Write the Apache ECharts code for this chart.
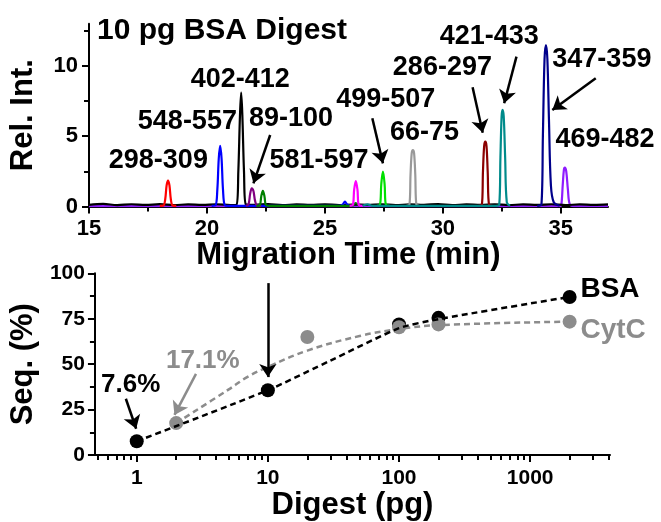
<!DOCTYPE html>
<html>
<head>
<meta charset="utf-8">
<script src="https://cdn.jsdelivr.net/npm/echarts@6/dist/echarts.min.js"></script>
<style>html,body{margin:0;padding:0;background:#fff}#c{width:661px;height:522px}</style>
</head>
<body>
<div id="c"></div>
<script>
// ---------- Top panel: electropherogram (time min, rel. intensity) ----------
const xTopTicks = [15, 20, 25, 30, 35];
const xTopMinor = [17.5, 22.5, 27.5, 32.5];
const yTopTicks = [0, 5, 10];
const yTopMinor = [2.5, 7.5, 12.5];

const trace_402_412 = [[15,0.12],[15.6,0.18],[16.2,0.1],[16.8,0.16],[17.4,0.11],[18.0,0.17],[18.6,0.1],[19.2,0.15],[19.8,0.12],[20.4,0.16],[21.0,0.1],[21.25,0.12],[21.33,2.5],[21.4,6.5],[21.45,8.1],[21.5,6.5],[21.57,2.5],[21.65,0.15],[22.0,0.12],[22.6,0.17],[23.2,0.1],[23.8,0.15],[24.4,0.12],[25.0,0.16],[25.6,0.1],[26.2,0.14],[26.8,0.12],[27.4,0.16],[28.0,0.1],[28.6,0.15],[29.2,0.12],[29.8,0.17],[30.4,0.1],[31.0,0.15],[31.6,0.12],[32.2,0.16],[32.8,0.1],[33.4,0.15],[34.0,0.12],[34.6,0.16],[35.2,0.1],[35.8,0.15],[36.4,0.12],[37,0.15]];
const trace_298_309 = [[18.0,0.05],[18.15,0.06],[18.23,0.5],[18.29,1.5],[18.35,1.84],[18.41,1.5],[18.47,0.5],[18.55,0.06],[18.7,0.05]];
const trace_548_557 = [[20.2,0.05],[20.36,0.08],[20.44,1.2],[20.5,3.4],[20.56,4.31],[20.62,3.4],[20.68,1.2],[20.76,0.08],[20.9,0.05],[25.6,0.05],[25.76,0.15],[25.85,0.35],[25.94,0.15],[26.05,0.05]];
const trace_89_100 = [[21.65,0.05],[21.76,0.15],[21.83,0.9],[21.9,1.3],[21.97,1.1],[22.04,0.4],[22.12,0.08],[22.3,0.05]];
const trace_581_597 = [[22.1,0.05],[22.24,0.1],[22.3,0.7],[22.37,1.12],[22.44,0.7],[22.5,0.1],[22.65,0.05],[26.15,0.05],[26.3,0.25],[26.45,0.05]];
const trace_magenta = [[26.05,0.05],[26.18,0.1],[26.24,1.2],[26.31,1.81],[26.38,1.2],[26.44,0.1],[26.6,0.05]];
const trace_499_507 = [[27.2,0.05],[27.33,0.1],[27.39,1.6],[27.46,2.48],[27.53,1.6],[27.59,0.1],[27.75,0.05]];
const trace_66_75 = [[28.45,0.05],[28.58,0.1],[28.63,2.3],[28.68,3.8],[28.73,4.02],[28.78,3.8],[28.83,2.3],[28.88,0.1],[29.0,0.05]];
const trace_286_297 = [[31.5,0.05],[31.65,0.1],[31.7,2.5],[31.75,4.3],[31.8,4.61],[31.85,4.3],[31.9,2.5],[31.96,0.1],[32.1,0.05]];
const trace_421_433 = [[26.6,0.05],[26.8,0.15],[27.0,0.05],[32.25,0.05],[32.39,0.12],[32.44,3.5],[32.49,6.4],[32.53,6.87],[32.58,6.4],[32.64,3.5],[32.71,0.3],[32.85,0.05]];
const trace_347_359 = [[34.0,0.05],[34.18,0.15],[34.24,5.0],[34.31,10.5],[34.37,11.49],[34.43,10.5],[34.5,6.0],[34.58,1.5],[34.7,0.3],[34.95,0.05]];
const trace_469_482 = [[15,0.02],[34.95,0.02],[35.02,0.1],[35.08,1.5],[35.13,2.6],[35.17,2.76],[35.23,2.5],[35.3,1.2],[35.38,0.15],[35.55,0.03],[37,0.02]];

const peakLabels = [['298-309',17.94,3.24],['548-557',19.17,6.01],['402-412',21.41,9.0],['89-100',23.56,6.23],['581-597',24.75,3.24],['499-507',27.58,7.58],['66-75',29.22,5.23],['286-297',29.98,9.86],['421-433',31.97,12.06],['347-359',36.74,10.43],['469-482',36.87,4.73]];
const peakArrows = [[[22.68,5.09],[21.97,1.65]],[[27.01,6.28],[27.46,3.07]],[[31.26,8.48],[31.69,5.25]],[[33.12,10.66],[32.6,7.35]],[[36.48,9.12],[34.64,6.87]]];

// ---------- Bottom panel: sequence coverage vs digest amount ----------
const digestTicks = [1, 10, 100, 1000];
const digestMinor = [0.5,0.6,0.7,0.8,0.9,2,3,4,5,6,7,8,9,20,30,40,50,60,70,80,90,200,300,400,500,600,700,800,900,2000,3000,4000];
const bsaX = [1, 10, 100, 200, 2000];
const bsaY = [7.6, 35.7, 71.9, 75.5, 87.0];
const cytcX = [2, 20, 100, 200, 2000];
const cytcY = [17.6, 65.0, 70.3, 71.9, 73.4];
const bsaFitX = [1, 10, 30, 100, 200, 2000];
const bsaFitY = [7.6, 35.7, 52, 69.8, 74.8, 87.0];
const cytcFitX = [2, 5, 7, 10, 20, 50, 100, 200, 2000];
const cytcFitY = [17.6, 36, 43, 48.5, 57.5, 65.5, 69.3, 71.5, 73.4];
const seqLabels = [['7.6%',0.90,38.75,'#000'],['17.1%',3.19,52.1,'#8c8c8c']];
const legendLabels = [['BSA',2417,91.0,'#000'],['CytC',2417,68.8,'#8c8c8c']];
const seqArrows = [[[0.826,31],[0.99,14.5],'#000'],[[2.83,44.7],[1.94,22.1],'#8c8c8c'],[[10,94.6],[10,42.9],'#000']];

const FONT = '"Liberation Sans", Arial, Helvetica, sans-serif';
const BLACK = '#000';
const GRAY = '#8c8c8c';

function axisBase(extra) {
  return Object.assign({
    axisLine: {show: true, onZero: false, lineStyle: {color: BLACK, width: 2}},
    axisTick: {show: true, inside: false, length: 7, lineStyle: {color: BLACK, width: 2}},
    axisLabel: {color: BLACK, fontFamily: FONT, fontWeight: 'bold', fontSize: 21},
    splitLine: {show: false},
    nameTextStyle: {color: BLACK, fontFamily: FONT, fontWeight: 'bold', fontSize: 31},
    nameLocation: 'middle'
  }, extra);
}
// overlay axes that only draw the short minor ticks
function minorAxis(extra, values) {
  return Object.assign({
    axisLine: {show: false, onZero: false},
    axisLabel: {show: false},
    splitLine: {show: false},
    axisTick: {show: true, inside: false, length: 5, customValues: values, lineStyle: {color: BLACK, width: 2}}
  }, extra);
}

const traceColors = [
  [trace_469_482, '#8f1cff'],
  [trace_402_412, '#000000'],
  [trace_298_309, '#ff0000'],
  [trace_548_557, '#0000ff'],
  [trace_89_100, '#800080'],
  [trace_581_597, '#008000'],
  [trace_magenta, '#ff00ff'],
  [trace_499_507, '#00e000'],
  [trace_66_75, '#999999'],
  [trace_286_297, '#8b0000'],
  [trace_421_433, '#008b8b'],
  [trace_347_359, '#00008b']
];

const series = [];
traceColors.forEach(function (tc) {
  series.push({
    type: 'line', xAxisIndex: 0, yAxisIndex: 0, data: tc[0],
    showSymbol: false, symbol: 'none', smooth: 0.35,
    lineStyle: {color: tc[1], width: 2.2}, silent: true
  });
});

const labelStyle = {fontFamily: FONT, fontWeight: 'bold', fontSize: 27, color: BLACK};

series.push({
  type: 'scatter', xAxisIndex: 0, yAxisIndex: 0, symbolSize: 0, silent: true,
  itemStyle: {opacity: 1},
  data: peakLabels.map(function (p) { return {value: [p[1], p[2]], name: p[0]}; }),
  label: Object.assign({show: true, position: 'inside', formatter: function (p) { return p.name; }}, labelStyle),
  markLine: {
    silent: true, symbol: ['none', 'arrow'], symbolSize: 13, animation: false,
    label: {show: false},
    lineStyle: {color: BLACK, width: 2.5, type: 'solid', opacity: 1},
    data: peakArrows.map(function (a) { return [{coord: a[0]}, {coord: a[1]}]; })
  }
});

// bottom fits
series.push({
  type: 'line', xAxisIndex: 2, yAxisIndex: 2, symbol: 'none', smooth: 0.4, silent: true,
  data: cytcFitX.map(function (x, i) { return [x, cytcFitY[i]]; }),
  lineStyle: {color: GRAY, width: 2.5, type: [6, 4]}
});
series.push({
  type: 'line', xAxisIndex: 2, yAxisIndex: 2, symbol: 'none', smooth: 0.2, silent: true,
  data: bsaFitX.map(function (x, i) { return [x, bsaFitY[i]]; }),
  lineStyle: {color: BLACK, width: 2.5, type: [6, 4]}
});
series.push({
  type: 'scatter', xAxisIndex: 2, yAxisIndex: 2, symbolSize: 14, silent: true,
  data: bsaX.map(function (x, i) { return [x, bsaY[i]]; }),
  itemStyle: {color: BLACK, opacity: 1}
});
series.push({
  type: 'scatter', xAxisIndex: 2, yAxisIndex: 2, symbolSize: 14, silent: true,
  data: cytcX.map(function (x, i) { return [x, cytcY[i]]; }),
  itemStyle: {color: GRAY, opacity: 1}
});
series.push({
  type: 'scatter', xAxisIndex: 2, yAxisIndex: 2, symbolSize: 0, silent: true,
  itemStyle: {opacity: 1},
  data: seqLabels.map(function (p) { return {value: [p[1], p[2]], name: p[0], label: {color: p[3]}}; }),
  label: Object.assign({show: true, position: 'inside', formatter: function (p) { return p.name; }}, labelStyle, {fontSize: 26}),
  markLine: {
    silent: true, symbol: ['none', 'arrow'], symbolSize: 13, animation: false,
    label: {show: false},
    lineStyle: {color: BLACK, width: 2.5, type: 'solid', opacity: 1},
    data: seqArrows.map(function (a) { return [{coord: a[0], lineStyle: {color: a[2]}}, {coord: a[1]}]; })
  }
});
series.push({
  type: 'scatter', xAxisIndex: 2, yAxisIndex: 2, symbolSize: 0, silent: true, clip: false,
  itemStyle: {opacity: 1},
  data: legendLabels.map(function (p) { return {value: [p[1], p[2]], name: p[0], label: {color: p[3]}}; }),
  label: Object.assign({show: true, position: 'right', distance: 0, formatter: function (p) { return p.name; }}, labelStyle, {fontSize: 28})
});

const option = {
  animation: false,
  backgroundColor: '#fff',
  title: {
    text: '10 pg BSA Digest', left: 92, top: 11,
    textStyle: {fontFamily: FONT, fontWeight: 'bold', fontSize: 30, color: BLACK}
  },
  grid: [
    {left: 88, right: 53, top: 23.8, bottom: 315.5},
    {left: 87.5, right: 51, top: 273.3, bottom: 64.7}
  ],
  xAxis: [
    axisBase({gridIndex: 0, type: 'value', position: 'bottom', min: 15, max: 37, interval: 5,
      name: 'Migration Time (min)', nameGap: 30,
      axisTick: {show: true, length: 7, customValues: xTopTicks, lineStyle: {color: BLACK, width: 2}},
      axisLabel: {customValues: xTopTicks, margin: 11, color: BLACK, fontFamily: FONT, fontWeight: 'bold', fontSize: 22}}),
    minorAxis({gridIndex: 0, type: 'value', position: 'bottom', min: 15, max: 37}, xTopMinor),
    axisBase({gridIndex: 1, type: 'log', logBase: 10, position: 'bottom', min: 0.48, max: 4064,
      name: 'Digest (pg)', nameGap: 31,
      axisTick: {show: true, length: 7, customValues: digestTicks, lineStyle: {color: BLACK, width: 2}},
      axisLabel: {customValues: digestTicks, margin: 13, color: BLACK, fontFamily: FONT, fontWeight: 'bold', fontSize: 21,
        formatter: function (v) { return String(Math.round(v)); }}}),
    minorAxis({gridIndex: 1, type: 'log', logBase: 10, position: 'bottom', min: 0.48, max: 4064}, digestMinor)
  ],
  yAxis: [
    axisBase({gridIndex: 0, type: 'value', position: 'left', min: 0, max: 13, interval: 5,
      name: 'Rel. Int.', nameGap: 50,
      axisTick: {show: true, length: 7, customValues: yTopTicks, lineStyle: {color: BLACK, width: 2}},
      axisLabel: {customValues: yTopTicks, margin: 11, color: BLACK, fontFamily: FONT, fontWeight: 'bold', fontSize: 22}}),
    minorAxis({gridIndex: 0, type: 'value', position: 'left', min: 0, max: 13}, yTopMinor),
    axisBase({gridIndex: 1, type: 'value', position: 'left', min: 0, max: 100, interval: 25,
      name: 'Seq. (%)', nameGap: 50,
      minorTick: {show: true, splitNumber: 2, length: 5, lineStyle: {color: BLACK, width: 2}},
      axisLabel: {margin: 10, color: BLACK, fontFamily: FONT, fontWeight: 'bold', fontSize: 21}})
  ],
  series: series
};

const chart = echarts.init(document.getElementById('c'), null, {renderer: 'canvas'});
chart.setOption(option);
</script>
</body>
</html>
